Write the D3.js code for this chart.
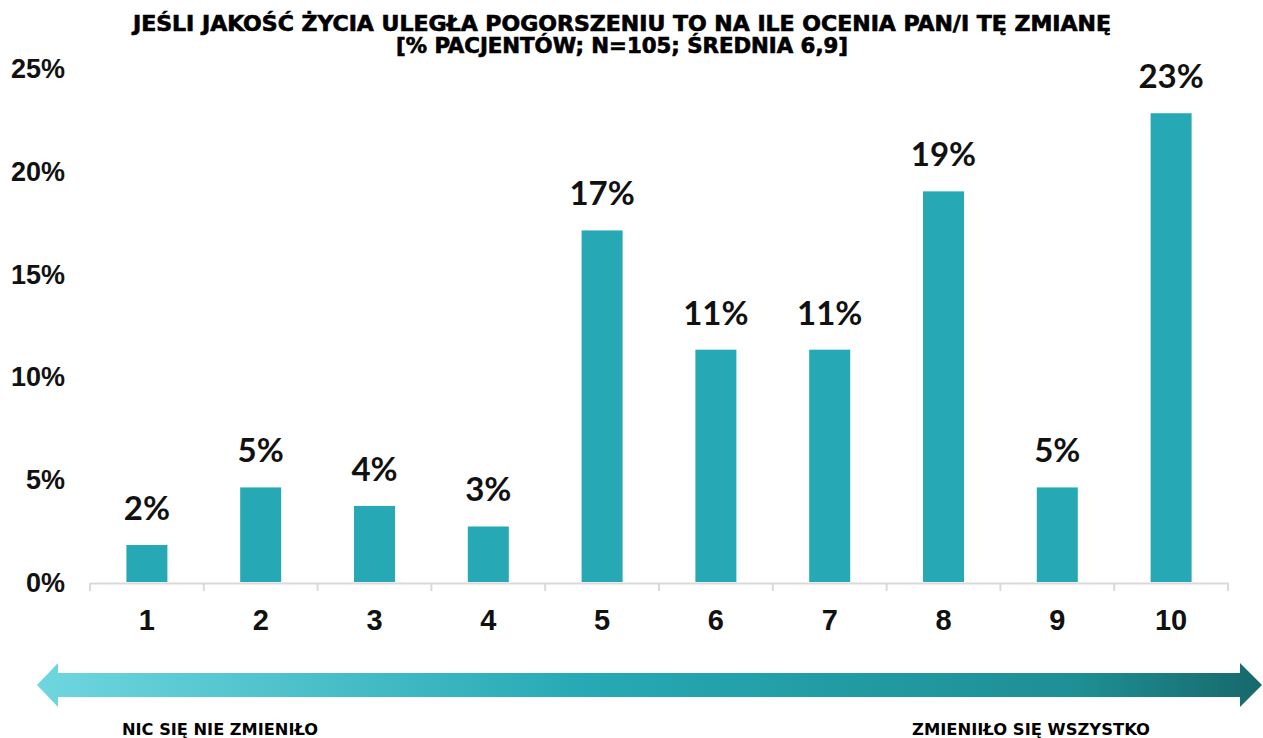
<!DOCTYPE html>
<html>
<head>
<meta charset="utf-8">
<script src="https://cdn.jsdelivr.net/npm/d3@7"></script>
<style>
  body { margin: 0; background: #fff; }
  svg { display: block; }
</style>
</head>
<body>
<div id="chart"></div>
<script>
const categories = ["1", "2", "3", "4", "5", "6", "7", "8", "9", "10"];
const values = [1.8, 4.6, 3.7, 2.7, 17.1, 11.3, 11.3, 19.0, 4.6, 22.8];
const valueLabels = ["2%", "5%", "4%", "3%", "17%", "11%", "11%", "19%", "5%", "23%"];
const yTicks = [0, 5, 10, 15, 20, 25];
const titleLines = [
  "JEŚLI JAKOŚĆ ŻYCIA ULEGŁA POGORSZENIU TO NA ILE OCENIA PAN/I TĘ ZMIANĘ",
  "[% PACJENTÓW; N=105; ŚREDNIA 6,9]"
];
const scaleLabels = ["NIC SIĘ NIE ZMIENIŁO", "ZMIENIIŁO SIĘ WSZYSTKO"];

const W = 1263, H = 738;
const plot = { left: 90, right: 1228, top: 68, bottom: 582 };

const svg = d3.select("#chart").append("svg")
  .attr("width", W).attr("height", H);

const defs = svg.append("defs");
const grad = defs.append("linearGradient").attr("id", "arrowGrad")
  .attr("x1", "0%").attr("x2", "100%");
grad.append("stop").attr("offset", "0%").attr("stop-color", "#6fd6de");
grad.append("stop").attr("offset", "45%").attr("stop-color", "#26a9b4");
grad.append("stop").attr("offset", "85%").attr("stop-color", "#1e8f94");
grad.append("stop").attr("offset", "100%").attr("stop-color", "#17686b");

// title
svg.append("g").selectAll("text")
  .data(titleLines)
  .join("text")
  .attr("x", 622)
  .attr("y", (d, i) => 31 + i * 22)
  .attr("text-anchor", "middle")
  .attr("textLength", (d, i) => i === 0 ? 978 : 452)
  .attr("lengthAdjust", "spacingAndGlyphs")
  .style("font-family", "'DejaVu Sans Condensed', 'DejaVu Sans', sans-serif")
  .style("font-weight", "bold")
  .style("font-size", "21px")
  .style("stroke", "#000")
  .style("stroke-width", 0.6)
  .text(d => d);

const x = d3.scaleBand()
  .domain(categories)
  .range([plot.left, plot.right])
  .paddingInner(0)
  .paddingOuter(0);

const y = d3.scaleLinear()
  .domain([0, 25])
  .range([plot.bottom, plot.top]);

// y labels
svg.append("g").selectAll("text")
  .data(yTicks)
  .join("text")
  .attr("x", 65)
  .attr("y", d => y(d) + 10)
  .attr("text-anchor", "end")
  .style("font-family", "'Liberation Sans', Arial, sans-serif")
  .style("font-weight", "bold")
  .style("font-size", "27px")
  .style("fill", "#111")
  .text(d => d + "%");

// bars
const barW = 41;
svg.append("g").selectAll("rect")
  .data(values)
  .join("rect")
  .attr("x", (d, i) => x(categories[i]) + x.bandwidth() / 2 - barW / 2)
  .attr("y", d => y(d))
  .attr("width", barW)
  .attr("height", d => plot.bottom - y(d))
  .style("fill", "#26a9b4");

// value labels
svg.append("g").selectAll("text")
  .data(values)
  .join("text")
  .attr("x", (d, i) => x(categories[i]) + x.bandwidth() / 2)
  .attr("y", d => y(d) - 25)
  .attr("text-anchor", "middle")
  .style("font-family", "Lato, 'Open Sans', sans-serif")
  .style("font-weight", "bold")
  .style("font-size", "33px")
  .style("fill", "#111")
  .text((d, i) => valueLabels[i]);

// x axis
const xAxis = svg.append("g")
  .attr("transform", `translate(0, ${plot.bottom + 1})`)
  .call(d3.axisBottom(x).tickSize(0).tickPadding(26));
xAxis.select(".domain").attr("stroke", "#d9d9d9").attr("stroke-width", 2);
xAxis.selectAll(".tick text")
  .style("font-family", "'Liberation Sans', Arial, sans-serif")
  .style("font-weight", "bold")
  .style("font-size", "29px")
  .style("fill", "#111");
const edges = d3.range(categories.length + 1).map(i => plot.left + i * x.step());
xAxis.selectAll(".sep")
  .data(edges)
  .join("line")
  .attr("class", "sep")
  .attr("x1", d => d).attr("x2", d => d)
  .attr("y1", 0).attr("y2", 8)
  .attr("stroke", "#d9d9d9")
  .attr("stroke-width", 2);

// gradient arrow
const ay = 685;
const arrowPath = [
  [37, ay], [58, 663], [58, 673], [1240, 673], [1240, 663],
  [1262, ay], [1240, 707], [1240, 697], [58, 697], [58, 707]
];
svg.append("path")
  .attr("d", d3.line()(arrowPath) + "Z")
  .style("fill", "url(#arrowGrad)");

// scale end labels
svg.append("g").selectAll("text")
  .data(scaleLabels)
  .join("text")
  .attr("x", (d, i) => i === 0 ? 122 : 912)
  .attr("y", 735)
  .attr("textLength", (d, i) => i === 0 ? 196 : 238)
  .attr("lengthAdjust", "spacingAndGlyphs")
  .style("font-family", "'DejaVu Sans Condensed', 'DejaVu Sans', sans-serif")
  .style("font-weight", "bold")
  .style("font-size", "16px")
  .text(d => d);
</script>
</body>
</html>
